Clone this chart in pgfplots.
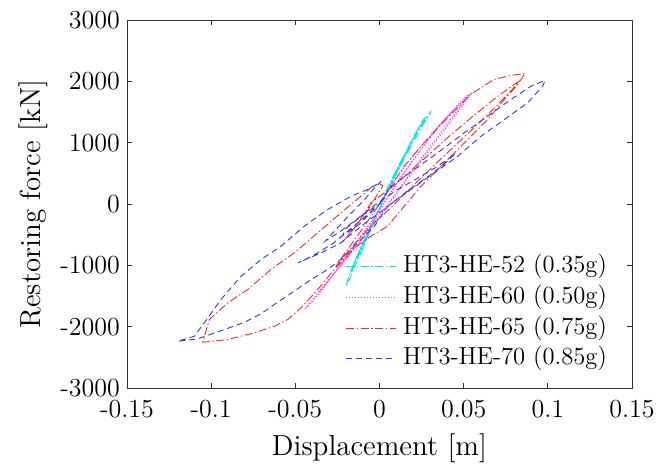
\documentclass[border=0pt]{standalone}
\usepackage{fontspec}
\usepackage{pgfplots}
\pgfplotsset{compat=1.18}
\definecolor{mcyan}{rgb}{0,0.9,0.95}
\definecolor{mmag}{rgb}{1,0.2,1}
\definecolor{mred}{rgb}{1,0.15,0.15}
\definecolor{mblue}{rgb}{0.2,0.2,1}
\pgfplotsset{
  s52/.style={color=mcyan, line width=0.45pt, dash pattern=on 4pt off 1.3pt on 0.7pt off 1.3pt},
  s60/.style={color=mmag, line width=0.45pt, dash pattern=on 0.6pt off 0.9pt},
  s65/.style={color=mred, line width=0.45pt, dash pattern=on 4pt off 1.3pt on 0.7pt off 1.3pt},
  s70/.style={color=mblue, line width=0.45pt, dash pattern=on 3pt off 2pt},
}
\tikzset{legnode/.style={anchor=west, inner sep=0pt, font=\fontsize{12.3}{14}\selectfont}}
\begin{document}
\begin{tikzpicture}
\useasboundingbox (-63.5pt,-40pt) rectangle (271.5pt,194pt);
\begin{axis}[
  at={(0,0)}, anchor=south west,
  scale only axis, width=252.5pt, height=184pt,
  xmin=-0.15, xmax=0.15, ymin=-3000, ymax=3000,
  xtick={-0.15,-0.1,-0.05,0,0.05,0.1,0.15},
  xticklabels={-0.15,-0.1,-0.05,0,0.05,0.1,0.15},
  ytick={-3000,-2000,-1000,0,1000,2000,3000},
  yticklabels={-3000,-2000,-1000,0,1000,2000,3000},
  tick align=inside, major tick length=2.5pt,
  axis line style={black!80, line width=0.4pt},
  every tick/.style={black!80, line width=0.4pt},
  tick label style={font=\fontsize{13}{15}\selectfont},
  xticklabel style={yshift=-2.5pt},
  xlabel={Displacement [m]}, ylabel={Restoring force [kN]},
  every axis x label/.style={at={(axis description cs:0.5,0)}, yshift=-30pt, anchor=center, font=\fontsize{14.5}{17}\selectfont},
  every axis y label/.style={at={(axis description cs:-0.186,0.5)}, rotate=90, anchor=center, font=\fontsize{14.5}{17}\selectfont},
]
% HT3-HE-52
\addplot[s52] coordinates {
(0,0) (0.006,330) (0.012,660) (0.018,960) (0.024,1250) (0.029,1450) (0.0306,1514) (0.0300,1480) (0.026,1300) (0.020,1010) (0.014,700) (0.008,380) (0.002,60) (-0.004,-280) (-0.010,-640) (-0.015,-950) (-0.0185,-1200) (-0.0199,-1341) (-0.0195,-1330) (-0.017,-1170) (-0.012,-860) (-0.007,-530) (-0.002,-210) (0.003,120) (0.008,420)
(0.014,760) (0.020,1080) (0.025,1330) (0.027,1400) (0.026,1380) (0.021,1130) (0.015,800) (0.009,450) (0.003,100) (-0.003,-250) (-0.009,-600) (-0.014,-900) (-0.017,-1100) (-0.0165,-1090) (-0.013,-870) (-0.008,-560) (-0.003,-250) (0.002,50)
(0.008,400) (0.014,720) (0.019,980) (0.0185,990) (0.013,690) (0.006,300) (0,-60) (-0.006,-420) (-0.011,-760) (-0.0105,-760) (-0.005,-400) (0,-60)
};
% HT3-HE-60
\addplot[s60] coordinates {
(0,0) (0.008,350) (0.016,650) (0.024,920) (0.032,1180) (0.040,1420) (0.047,1610) (0.052,1740) (0.055,1814) (0.054,1780) (0.049,1590) (0.042,1330) (0.034,1040) (0.026,750) (0.018,460) (0.010,160) (0.002,-140) (-0.006,-430) (-0.014,-700) (-0.022,-970) (-0.030,-1230) (-0.037,-1460) (-0.042,-1630) (-0.0437,-1693) (-0.042,-1660) (-0.038,-1530) (-0.032,-1320) (-0.025,-1060) (-0.018,-790) (-0.010,-480) (-0.002,-170) (0.005,120) (0.012,420) (0.020,720) (0.028,1010) (0.036,1290) (0.044,1540) (0.050,1720) (0.053,1790)
(0.051,1700) (0.045,1480) (0.037,1190) (0.029,900) (0.021,600) (0.013,300) (0.005,0) (-0.004,-330) (-0.012,-620) (-0.020,-900) (-0.028,-1160) (-0.034,-1380) (-0.036,-1440) (-0.033,-1360) (-0.026,-1100) (-0.018,-800) (-0.010,-500) (-0.002,-200) (0.006,150) (0.014,480) (0.022,790) (0.030,1080) (0.038,1360) (0.043,1500)
};
% HT3-HE-65
\addplot[s65] coordinates {
(0,0) (0.006,250) (0.0147,617) (0.025,950) (0.035,1250) (0.045,1530) (0.054,1786) (0.0603,1895) (0.068,2031) (0.078,2096) (0.0865,2129)
(0.0821,1949) (0.0742,1705) (0.0643,1378) (0.0544,1106) (0.0445,835) (0.0346,563) (0.0247,291) (0.0147,-36) (0.0049,-362)
(-0.006,-540) (-0.015,-720) (-0.0269,-1068) (-0.0367,-1395) (-0.0466,-1693) (-0.0546,-1884) (-0.0625,-1993) (-0.0744,-2101) (-0.0902,-2210) (-0.105,-2254)
(-0.1011,-1884) (-0.0902,-1612) (-0.0783,-1395) (-0.0645,-1068) (-0.0506,-796) (-0.0367,-470) (-0.0229,-144) (-0.011,127) (-0.004,290) (0,330) (0.002,300)
(-0.002,120) (-0.008,-150) (-0.016,-420) (-0.022,-620) (-0.015,-400) (-0.005,20) (0.010,330) (0.025,700) (0.040,1070) (0.055,1420) (0.070,1750) (0.080,1950) (0.083,2000)
(0.079,1870) (0.068,1560) (0.056,1240) (0.044,930) (0.032,620) (0.020,300) (0.008,-30) (-0.004,-330) (-0.012,-560) (-0.020,-820) (-0.026,-1020) (-0.020,-780) (-0.010,-400) (0,0)
};
% HT3-HE-70
\addplot[s70] coordinates {
(0,0) (0.0068,291) (0.0207,563) (0.0346,835) (0.0504,1161) (0.0643,1433) (0.0781,1705) (0.090,1922) (0.0983,2015)
(0.097,1922) (0.088,1650) (0.0742,1378) (0.0603,1106) (0.0465,780) (0.0326,509) (0.0187,237) (0.0049,-36)
(-0.003,-362) (-0.015,-688) (-0.0229,-905) (-0.0308,-1068) (-0.0407,-1232) (-0.0506,-1420) (-0.0605,-1600) (-0.0704,-1790) (-0.0803,-1930) (-0.0922,-2047) (-0.108,-2199) (-0.1199,-2238)
(-0.110,-2156) (-0.1041,-1938) (-0.0942,-1558) (-0.0823,-1178) (-0.0704,-905) (-0.0585,-688) (-0.0447,-362) (-0.0308,-90) (-0.0169,127) (-0.007,237) (0,346) (0.001,372)
(-0.003,260) (-0.010,40) (-0.018,-180) (-0.026,-420) (-0.032,-600) (-0.024,-460) (-0.014,-260) (-0.004,-40) (0.0108,237) (0.0247,453) (0.0346,617) (0.045,820)
(0.038,640) (0.028,430) (0.016,200) (0.004,-60) (-0.008,-300) (-0.018,-520) (-0.0229,-633) (-0.035,-800) (-0.0486,-960) (-0.040,-850) (-0.028,-650) (-0.016,-380) (-0.006,-150) (0,0)
(-0.012,-330) (-0.022,-520) (-0.020,-400) (-0.010,-180) (0,0)
};
% legend (drawn in axis coordinates)
\addplot[s52, forget plot] coordinates {(-0.0199,-1020) (0.0098,-1020)};
\addplot[s60, forget plot] coordinates {(-0.0199,-1525) (0.0098,-1525)};
\addplot[s65, forget plot] coordinates {(-0.0199,-2031) (0.0098,-2031)};
\addplot[s70, forget plot] coordinates {(-0.0199,-2520) (0.0098,-2520)};
\node[legnode] at (axis cs:0.0138,-1020) {HT3-HE-52 (0.35g)};
\node[legnode] at (axis cs:0.0138,-1525) {HT3-HE-60 (0.50g)};
\node[legnode] at (axis cs:0.0138,-2031) {HT3-HE-65 (0.75g)};
\node[legnode] at (axis cs:0.0138,-2520) {HT3-HE-70 (0.85g)};
\end{axis}
\end{tikzpicture}
\end{document}
